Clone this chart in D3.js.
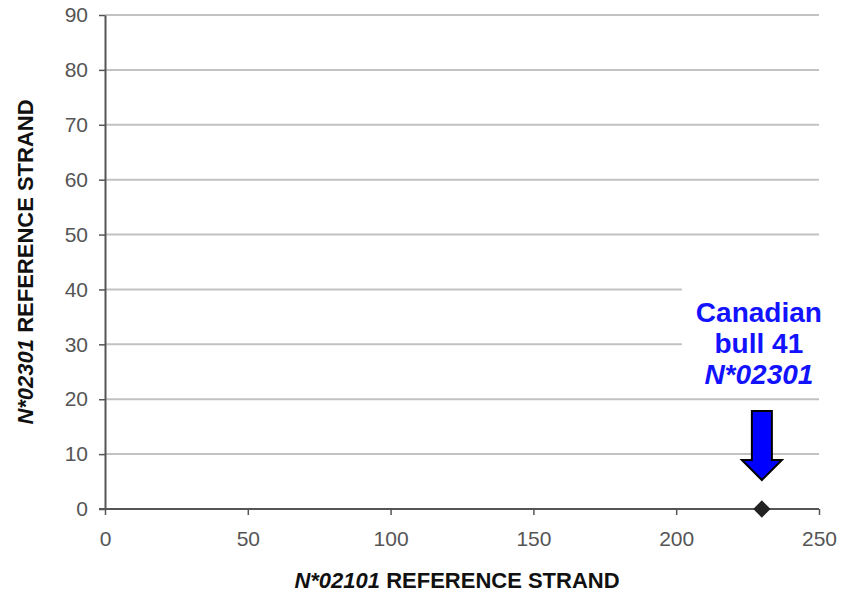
<!DOCTYPE html>
<html>
<head>
<meta charset="utf-8">
<script src="https://cdn.jsdelivr.net/npm/d3@7"></script>
<style>
	body { margin: 0; background: #fff; }
	svg { font-family: Arial, "Liberation Sans", sans-serif; }
</style>
</head>
<body>
<div id="chart"></div>
<script>
const xTicks = [0, 50, 100, 150, 200, 250];
const yTicks = [0, 10, 20, 30, 40, 50, 60, 70, 80, 90];
const pointX = [230];
const pointY = [0];
const noteLines = ['Canadian', 'bull 41', 'N*02301'];

const w = 841, h = 601;
const x = d3.scaleLinear().domain([0, 250]).range([105, 819]);
const y = d3.scaleLinear().domain([0, 90]).range([509, 15]);

const svg = d3.select('#chart').append('svg')
	.attr('width', w)
	.attr('height', h)
	.attr('viewBox', `0 0 ${w} ${h}`);

// gridlines
svg.append('g')
	.selectAll('line')
	.data(yTicks.filter(d => d > 0))
	.enter()
	.append('line')
	.attr('x1', x(0))
	.attr('x2', x(250))
	.attr('y1', d => y(d))
	.attr('y2', d => y(d))
	.attr('stroke', '#c2c2c2')
	.attr('stroke-width', 2);

// y axis
const yAxis = svg.append('g')
	.attr('transform', `translate(${x(0)},0)`)
	.call(d3.axisLeft(y).tickValues(yTicks).tickSize(6).tickPadding(11).tickSizeOuter(0));
// x axis
const xAxis = svg.append('g')
	.attr('transform', `translate(0,${y(0)})`)
	.call(d3.axisBottom(x).tickValues(xTicks).tickSize(6).tickPadding(16).tickSizeOuter(0));

[xAxis, yAxis].forEach(a => {
	a.select('.domain').attr('stroke', '#555').attr('stroke-width', 2);
	a.selectAll('.tick line').attr('stroke', '#555').attr('stroke-width', 1.5);
	a.selectAll('.tick text')
		.attr('fill', '#555')
		.style('font-size', '21px');
});
xAxis.select('.domain').attr('d', `M${x(0) - 6},0H${x(250)}`);

// annotation backdrop hides gridlines behind the label
const px = x(pointX[0]), py = y(pointY[0]);
svg.append('rect')
	.attr('x', px - 80)
	.attr('y', py - 226)
	.attr('width', x(250) - px + 82)
	.attr('height', 115)
	.attr('fill', '#fff');

const note = svg.append('text')
	.attr('text-anchor', 'middle')
	.attr('fill', '#1212ff')
	.style('font-size', '28px')
	.style('font-weight', 'bold');
noteLines.forEach((t, i) => {
	note.append('tspan')
		.attr('x', px - 3)
		.attr('y', py - 187 + i * 31)
		.style('font-style', i === 2 ? 'italic' : 'normal')
		.text(t);
});

// arrow
const arrow = d3.path();
arrow.moveTo(px - 10, py - 98);
arrow.lineTo(px + 10, py - 98);
arrow.lineTo(px + 10, py - 49);
arrow.lineTo(px + 20, py - 49);
arrow.lineTo(px, py - 29);
arrow.lineTo(px - 20, py - 49);
arrow.lineTo(px - 10, py - 49);
arrow.closePath();
svg.append('path')
	.attr('d', arrow.toString())
	.attr('fill', '#0000ff')
	.attr('stroke', '#000')
	.attr('stroke-width', 2)
	.attr('stroke-linejoin', 'miter');

// points
svg.append('g')
	.selectAll('path')
	.data(pointX.map((d, i) => [d, pointY[i]]))
	.enter()
	.append('path')
	.attr('transform', d => `translate(${x(d[0])},${y(d[1])})`)
	.attr('d', d3.symbol().type(d3.symbolDiamond2).size(190))
	.attr('fill', '#222');

// axis titles
const xTitle = svg.append('text')
	.attr('x', 457)
	.attr('y', 588)
	.attr('text-anchor', 'middle')
	.attr('fill', '#111')
	.style('font-size', '22px')
	.style('font-weight', 'bold');
xTitle.append('tspan').style('font-style', 'italic').text('N*02101');
xTitle.append('tspan').text(' REFERENCE STRAND');

const yTitle = svg.append('text')
	.attr('transform', `translate(33,${(y(0) + y(90)) / 2}) rotate(-90)`)
	.attr('text-anchor', 'middle')
	.attr('fill', '#111')
	.style('font-size', '22px')
	.style('font-weight', 'bold');
yTitle.append('tspan').style('font-style', 'italic').text('N*02301');
yTitle.append('tspan').text(' REFERENCE STRAND');
</script>
</body>
</html>
